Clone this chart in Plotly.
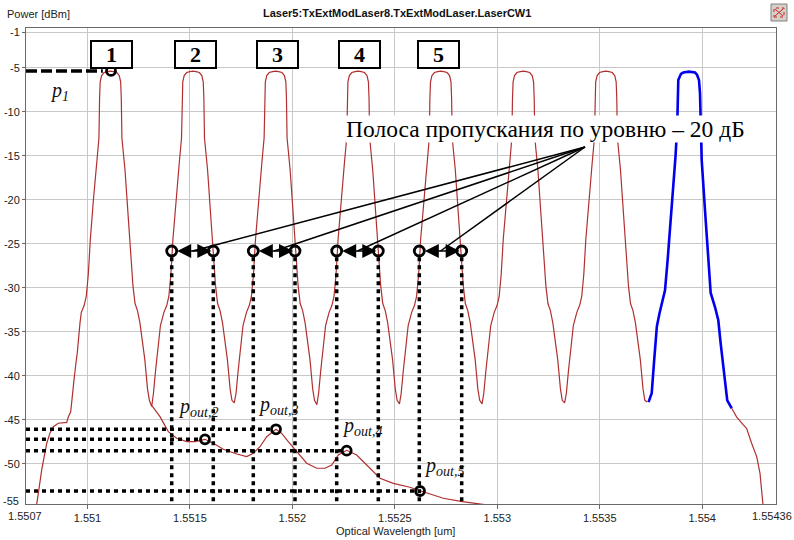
import plotly.graph_objects as go

# ---------------- data ----------------
# channel centre wavelengths [um]
centers = [1.551112, 1.551515, 1.551918, 1.552321, 1.552724, 1.553127, 1.553530, 1.553933]

# shape of one channel: offset from centre [um] and power [dBm]
prof_off = [-0.000193, -0.000183, -0.000173, -0.000159, -0.000142, -0.000128, -0.000118, -0.000108,
            -0.000098, -0.000083, -0.000067, -0.000056, -0.000053, -0.000050, -0.000043, -0.000031,
            -0.000015, 0.0, 0.000015, 0.000031, 0.000043, 0.000050, 0.000053, 0.000056, 0.000071,
            0.000083, 0.000095, 0.000110, 0.000120, 0.000132, 0.000144, 0.000156, 0.000168,
            0.000181, 0.000190]
prof_pw = [-42.0, -39.5, -37.5, -34.3, -32.8, -32.0, -31.0, -28.5,
           -24.5, -20.0, -15.8, -13.0, -8.5, -6.6, -5.9, -5.55,
           -5.45, -5.4, -5.45, -5.55, -5.9, -6.6, -8.5, -13.0, -16.6,
           -20.5, -24.6, -29.8, -31.8, -32.6, -34.0, -36.0, -38.2,
           -41.5, -42.8]

# minima between neighbouring channels
dip_wl = [1.5513135, 1.5517165, 1.5521195, 1.5525225, 1.5529255, 1.5533285, 1.5537315]
dip_pw = [-43.5, -43.1, -43.3, -43.2, -43.2, -43.1, -43.0]

# left flank of the spectrum (before channel 1)
left_wl = [1.550749, 1.5507522, 1.5507649, 1.5507766, 1.550801, 1.5508171, 1.5508332, 1.5508576,
           1.5508986, 1.5509064, 1.5509181, 1.5509279, 1.5509342, 1.550944, 1.5509503, 1.5509635]
left_pw = [-56.0, -54.6, -52.6, -50.7, -47.7, -46.5, -45.8, -45.4,
           -45.3, -44.7, -44.1, -41.6, -40.5, -38.5, -37.4, -34.0]

# right flank of the spectrum (after channel 8)
right_wl = [1.5541438, 1.5541682, 1.5542004, 1.554217, 1.5542414, 1.5542658, 1.5542819,
            1.5542902, 1.554298, 1.554302]
right_pw = [-43.7, -44.7, -45.6, -46.0, -47.7, -49.2, -51.1, -53.0, -54.5, -56.0]

# channel 8 (highlighted, blue)
ch8_wl = [1.553738, 1.5537534, 1.5537656, 1.5537786, 1.5537916, 1.5538022, 1.5538183, 1.5538310,
          1.5538440, 1.5538568, 1.5538695, 1.5538778, 1.5538832, 1.5538832, 1.5538964, 1.5539076,
          1.5539354, 1.5539647, 1.5539745, 1.5539842, 1.5539891, 1.5539974, 1.5540135, 1.5540299,
          1.5540413, 1.5540623, 1.5540784, 1.5540898, 1.5541108, 1.5541221, 1.5541438]
ch8_pw = [-43.0, -42.0, -38.2, -34.4, -32.9, -31.8, -30.3, -26.9,
          -23.1, -19.3, -15.1, -11.7, -7.9, -6.4, -5.7, -5.55,
          -5.45, -5.55, -5.8, -6.4, -7.9, -15.5, -21.2, -26.9,
          -30.6, -32.2, -33.7, -36.3, -40.5, -42.8, -43.7]

# lower (crosstalk) curve
low_wl = [1.5513149, 1.5513539, 1.5513944, 1.5514354, 1.5514842, 1.5515247, 1.5515735, 1.551614,
          1.5516628, 1.5517282, 1.551777, 1.5518092, 1.5518419, 1.5518746, 1.55192, 1.5519478,
          1.55198, 1.552021, 1.5520698, 1.5521186, 1.5521591, 1.5521918, 1.552224, 1.552265,
          1.5523138, 1.5523787, 1.5524275, 1.5524924, 1.5525739, 1.5526227, 1.5526876, 1.5527364,
          1.5528291, 1.5529316, 1.5529887]
low_pw = [-43.44, -44.66, -46.36, -47.11, -47.5, -47.5, -47.23, -47.68,
          -48.36, -48.9, -49.2, -48.82, -48.07, -46.93, -46.09, -46.55,
          -47.5, -48.64, -49.95, -50.52, -50.52, -50.15, -49.01, -48.48,
          -49.01, -50.52, -51.66, -52.23, -52.68, -53.07, -53.56, -53.93,
          -54.32, -54.58, -54.8]

# marked powers p1, p_out,2 .. p_out,5
p_wl = [1.5511148, 1.5515735, 1.55192, 1.552265, 1.5526227]
p_pw = [-5.37, -47.23, -46.09, -48.52, -53.1]
p_names = ["<i>p</i><sub><i>1</i></sub>", "<i>p</i><sub><i>out,2</i></sub>",
           "<i>p</i><sub><i>out,3</i></sub>", "<i>p</i><sub><i>out,4</i></sub>",
           "<i>p</i><sub><i>out,5</i></sub>"]

# -20 dB bandwidth edges of channels 2..5
bw_wl = [1.551411, 1.551614, 1.5518092, 1.5520127, 1.5522162, 1.5524192, 1.5526193, 1.5528262]
bw_level = [-25.83] * 8

box_labels = ["1", "2", "3", "4", "5"]
x_ticks = [1.551, 1.5515, 1.552, 1.5525, 1.553, 1.5535, 1.554]
y_ticks = [-1, -5, -10, -15, -20, -25, -30, -35, -40, -45, -50]

# ---------------- geometry helpers (layout only) ----------------
X0, X1 = 1.5507, 1.55436
Y0, Y1 = -54.58, -0.49
L, R, T, B = 26, 776, 28, 504


def px_x(px):
    return X0 + (px - L) * (X1 - X0) / (R - L)


def px_y(py):
    return Y1 - (py - T) * (Y1 - Y0) / (B - T)


def pap_x(px):
    return (px - L) / (R - L)


def pap_y(py):
    return (B - py) / (B - T)


RED = "#B03030"

# ---------------- build spectrum ----------------
main_wl = list(left_wl)
main_pw = list(left_pw)
for i in range(7):
    for o, p in zip(prof_off, prof_pw):
        if i == 0 and o < -0.00015:
            continue
        main_wl.append(centers[i] + o)
        main_pw.append(p)
    main_wl.append(dip_wl[i])
    main_pw.append(dip_pw[i])

fig = go.Figure()
fig.add_trace(go.Scatter(x=main_wl, y=main_pw, mode="lines", line=dict(color=RED, width=1.2)))
fig.add_trace(go.Scatter(x=right_wl, y=right_pw, mode="lines", line=dict(color=RED, width=1.2)))
fig.add_trace(go.Scatter(x=low_wl, y=low_pw, mode="lines", line=dict(color=RED, width=1.2)))
fig.add_trace(go.Scatter(x=ch8_wl, y=ch8_pw, mode="lines", line=dict(color="#0000EE", width=2.6)))

shapes = []
annotations = []

# dashed line to p1
shapes.append(dict(type="line", xref="x", yref="y", x0=X0, x1=p_wl[0] - 0.00004,
                   y0=p_pw[0], y1=p_pw[0], line=dict(color="black", width=3.5, dash="11px,4px")))
# dotted horizontal lines to p_out
for wl, pw in zip(p_wl[1:], p_pw[1:]):
    shapes.append(dict(type="line", xref="x", yref="y", x0=X0, x1=wl - 0.000027,
                       y0=pw, y1=pw, line=dict(color="black", width=3.5, dash="4px,4px")))
# dotted vertical lines from bandwidth edges
for wl, lv in zip(bw_wl, bw_level):
    shapes.append(dict(type="line", xref="x", yref="y", x0=wl, x1=wl,
                       y0=lv - 0.7, y1=Y0, line=dict(color="black", width=3.5, dash="4px,4px")))

# leader lines from the caption to each bandwidth arrow
hub_x, hub_y = px_x(585), px_y(147)
for k in range(4):
    mx = (bw_wl[2 * k] + bw_wl[2 * k + 1]) / 2
    shapes.append(dict(type="line", xref="x", yref="y", x0=hub_x, y0=hub_y, x1=mx,
                       y1=bw_level[2 * k], line=dict(color="black", width=1.5)))

# double arrows
for k in range(4):
    annotations.append(dict(x=bw_wl[2 * k + 1], y=bw_level[2 * k + 1], ax=bw_wl[2 * k],
                            ay=bw_level[2 * k], xref="x", yref="y", axref="x", ayref="y",
                            text="", showarrow=True, arrowside="end+start", arrowhead=2,
                            startarrowhead=2, arrowsize=2.0, startarrowsize=2.0, arrowwidth=1.4,
                            arrowcolor="black", standoff=2, startstandoff=4))

# circles
fig.add_trace(go.Scatter(x=p_wl, y=p_pw, mode="markers",
                         marker=dict(symbol="circle-open", size=9, color="black", line=dict(width=2.8))))
fig.add_trace(go.Scatter(x=bw_wl, y=bw_level, mode="markers",
                         marker=dict(symbol="circle-open", size=10, color="black", line=dict(width=2.8))))

# labels p
lab_pos = [(48, 91), (176, 407), (256, 405), (340, 426), (422, 466)]
for name, (lx, ly) in zip(p_names, lab_pos):
    annotations.append(dict(x=px_x(lx), y=px_y(ly), xref="x", yref="y", text=name, showarrow=False,
                            xanchor="left", yanchor="middle",
                            font=dict(family="Liberation Serif", size=20, color="#111")))

# numbered boxes
box_px = [111, 195, 277.5, 359, 438]
for lab, bx in zip(box_labels, box_px):
    annotations.append(dict(x=px_x(bx), y=px_y(54), xref="x", yref="y", text="<b>" + lab + "</b>",
                            showarrow=False, font=dict(family="Liberation Serif", size=22, color="black"),
                            bgcolor="white", bordercolor="black", borderwidth=2, borderpad=0,
                            width=39, height=25, valign="middle"))

# caption
annotations.append(dict(x=px_x(545), y=px_y(129), xref="x", yref="y",
                        text="Полоса пропускания по уровню – 20 дБ", showarrow=False,
                        font=dict(family="Liberation Serif", size=23.5, color="black"),
                        bgcolor="white", borderpad=0))

# titles and edge labels
SANS = "Liberation Sans"
annotations += [
    dict(x=pap_x(5), y=pap_y(14), xref="paper", yref="paper", text="Power [dBm]", showarrow=False,
         xanchor="left", yanchor="middle", font=dict(family=SANS, size=11, color="#222")),
    dict(x=pap_x(397), y=pap_y(13), xref="paper", yref="paper",
         text="<b>Laser5:TxExtModLaser8.TxExtModLaser.LaserCW1</b>", showarrow=False,
         xanchor="center", yanchor="middle", font=dict(family=SANS, size=11, color="#111")),
    dict(x=pap_x(395.5), y=pap_y(531), xref="paper", yref="paper", text="Optical Wavelength [um]",
         showarrow=False, xanchor="center", yanchor="middle", font=dict(family=SANS, size=11, color="#222")),
    dict(x=pap_x(24.5), y=pap_y(516), xref="paper", yref="paper", text="1.5507", showarrow=False,
         xanchor="center", yanchor="middle", font=dict(family=SANS, size=11, color="#222")),
    dict(x=pap_x(772), y=pap_y(516), xref="paper", yref="paper", text="1.55436", showarrow=False,
         xanchor="center", yanchor="middle", font=dict(family=SANS, size=11, color="#222")),
    dict(x=pap_x(21), y=pap_y(501), xref="paper", yref="paper", text="-55", showarrow=False,
         xanchor="right", yanchor="middle", font=dict(family=SANS, size=11, color="#222")),
]

# little window button in the top-right corner
shapes += [
    dict(type="rect", xref="paper", yref="paper", x0=pap_x(771), x1=pap_x(787), y0=pap_y(21), y1=pap_y(4),
         fillcolor="#D4D0C8", line=dict(color="#808080", width=1)),
    dict(type="rect", xref="paper", yref="paper", x0=pap_x(774), x1=pap_x(784), y0=pap_y(17), y1=pap_y(8),
         fillcolor="rgba(0,0,0,0)", line=dict(color="#D02020", width=1, dash="dot")),
    dict(type="line", xref="paper", yref="paper", x0=pap_x(775), x1=pap_x(783), y0=pap_y(9), y1=pap_y(16),
         line=dict(color="#D02020", width=1)),
    dict(type="line", xref="paper", yref="paper", x0=pap_x(775), x1=pap_x(783), y0=pap_y(16), y1=pap_y(9),
         line=dict(color="#D02020", width=1)),
]

fig.update_layout(
    width=794, height=540,
    margin=dict(l=L, r=794 - R, t=T, b=540 - B, autoexpand=False),
    paper_bgcolor="white", plot_bgcolor="white",
    showlegend=False,
    shapes=shapes, annotations=annotations,
    xaxis=dict(range=[X0, X1], tickvals=x_ticks, ticktext=[str(v) for v in x_ticks],
               showgrid=True, gridcolor="#C8C8C8", gridwidth=1, zeroline=False,
               showline=True, linecolor="#6A6A6A", linewidth=1, mirror=True,
               ticks="outside", ticklen=4, tickcolor="#6A6A6A", automargin=False,
               tickfont=dict(family=SANS, size=11, color="#222")),
    yaxis=dict(range=[Y0, Y1], tickvals=y_ticks, ticktext=[str(v) for v in y_ticks],
               showgrid=True, gridcolor="#C8C8C8", gridwidth=1, zeroline=False,
               showline=True, linecolor="#6A6A6A", linewidth=1, mirror=True,
               ticks="outside", ticklen=3, tickcolor="#6A6A6A", automargin=False,
               tickfont=dict(family=SANS, size=11, color="#222")),
)

fig.write_html("out.html", config={"displayModeBar": False},
               post_script="document.body.style.margin='0';document.body.style.overflow='hidden';")
